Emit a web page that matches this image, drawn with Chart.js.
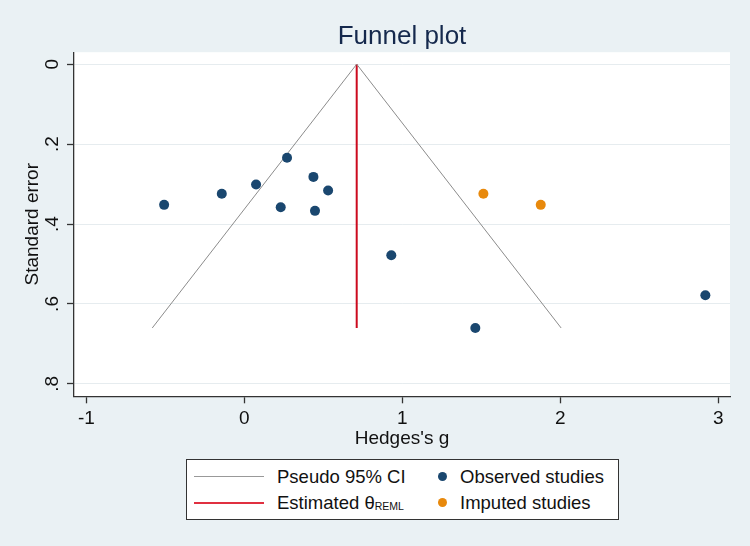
<!DOCTYPE html>
<html>
<head>
<meta charset="utf-8">
<script src="https://cdn.jsdelivr.net/npm/chart.js@4"></script>
<style>
    body { margin: 0; background: #eaf1f4; }
    .wrap { position: relative; width: 750px; height: 546px; }
    .legend {
        position: absolute; left: 186px; top: 459px; width: 431px; height: 59px;
        background: #fff; border: 1px solid #333;
        font-family: "Liberation Sans", Arial, sans-serif; font-size: 18.5px; color: #111;
    }
    .legend .item { position: absolute; line-height: 20px; white-space: nowrap; }
    .legend .line { position: absolute; left: 7px; width: 70px; }
    .legend .dot { position: absolute; width: 9px; height: 9px; border-radius: 50%; }
    .legend sub { font-size: 10.5px; vertical-align: baseline; position: relative; top: 1px; }
</style>
</head>
<body>
<div class="wrap">
    <canvas id="chart" width="750" height="546"></canvas>
    <div class="legend">
        <div class="line" style="top:16px;height:1px;background:#999"></div>
        <div class="item" style="left:90px;top:7px">Pseudo 95% CI</div>
        <div class="line" style="top:42px;height:2px;background:#e03040"></div>
        <div class="item" style="left:90px;top:33px">Estimated θ<sub>REML</sub></div>
        <div class="dot" style="left:251px;top:12px;background:#1a476f"></div>
        <div class="item" style="left:273px;top:7px">Observed studies</div>
        <div class="dot" style="left:251px;top:38px;background:#e8890c"></div>
        <div class="item" style="left:273px;top:33px">Imputed studies</div>
    </div>
</div>
<script>
// values
const observedG = [-0.508, -0.143, 0.074, 0.270, 0.230, 0.437, 0.447, 0.530, 0.930, 1.462, 2.918]
const observedSE = [0.352, 0.324, 0.301, 0.234, 0.358, 0.282, 0.367, 0.316, 0.478, 0.660, 0.578]
const imputedG = [1.513, 1.876]
const imputedSE = [0.324, 0.352]
const thetaREML = 0.711
const ciG = [-0.583, 0.711, 2.005]
const ciSE = [0.66, 0, 0.66]
const thetaSE = [0, 0.66]

const xTicks = [-1, 0, 1, 2, 3]
const yTicks = [0, 0.2, 0.4, 0.6, 0.8]
const yTickLabels = ['0', '.2', '.4', '.6', '.8']

const font = '"Liberation Sans", Arial, sans-serif'
const dark = '#333'

const toPoints = (xs, ys) => xs.map((x, i) => ({x: x, y: ys[i]}))

const background = {
    id: 'background',
    beforeDraw(chart) {
        const {ctx, chartArea} = chart
        ctx.save()
        ctx.fillStyle = '#eaf1f4'
        ctx.fillRect(0, 0, chart.width, chart.height)
        ctx.fillStyle = '#ffffff'
        ctx.fillRect(chartArea.left, chartArea.top, chartArea.right - chartArea.left, chartArea.bottom - chartArea.top)
        ctx.restore()
    }
}

new Chart(document.getElementById('chart').getContext('2d'), {
    type: 'scatter',
    data: {
        datasets: [
            {
                label: 'Observed studies',
                data: toPoints(observedG, observedSE),
                backgroundColor: '#1a476f',
                pointRadius: 5,
                pointBorderWidth: 0,
                order: 0
            },
            {
                label: 'Imputed studies',
                data: toPoints(imputedG, imputedSE),
                backgroundColor: '#e8890c',
                pointRadius: 5,
                pointBorderWidth: 0,
                order: 0
            },
            {
                label: 'Pseudo 95% CI',
                data: toPoints(ciG, ciSE),
                showLine: true,
                borderColor: '#8c8c8c',
                borderWidth: 1,
                pointRadius: 0,
                order: 1
            },
            {
                label: 'Estimated θREML',
                data: thetaSE.map(se => ({x: thetaREML, y: se})),
                showLine: true,
                borderColor: '#cc0a1e',
                borderWidth: 2,
                pointRadius: 0,
                order: 1
            }
        ]
    },
    options: {
        responsive: false,
        animation: false,
        devicePixelRatio: 1,
        layout: {padding: {top: 0, left: 0, right: 20, bottom: 94.7}},
        plugins: {
            legend: {display: false},
            tooltip: {enabled: false},
            title: {
                display: true,
                text: 'Funnel plot',
                fullSize: false,
                color: '#15294d',
                font: {family: font, size: 26, weight: 'normal', lineHeight: 1.2},
                padding: {top: 21, bottom: 0}
            }
        },
        scales: {
            x: {
                type: 'linear',
                min: -1.0785,
                max: 3.074,
                afterBuildTicks: s => { s.ticks = xTicks.map(v => ({value: v})) },
                afterFit: s => { s.height = 55 },
                grid: {drawOnChartArea: false, drawTicks: true, tickLength: 7, tickColor: dark, tickWidth: 1.3},
                border: {color: dark, width: 1.3},
                ticks: {color: '#111', font: {family: font, size: 19}, padding: 4, maxRotation: 0},
                title: {display: true, text: "Hedges's g", color: '#111', font: {family: font, size: 19}, padding: {top: 0, bottom: 1.1}}
            },
            y: {
                type: 'linear',
                reverse: true,
                min: -0.03,
                max: 0.831,
                afterBuildTicks: s => { s.ticks = yTicks.map(v => ({value: v})) },
                afterFit: s => { s.width = 74 },
                grid: {color: '#e6ecef', lineWidth: 1, drawTicks: true, tickLength: 7, tickColor: dark, tickWidth: 1.3},
                border: {color: dark, width: 1.3},
                ticks: {
                    color: '#111',
                    font: {family: font, size: 19},
                    padding: 6,
                    minRotation: 90,
                    maxRotation: 90,
                    crossAlign: 'center',
                    callback: (v, i) => yTickLabels[i]
                },
                title: {display: true, text: 'Standard error', color: '#111', font: {family: font, size: 19}, padding: {top: 21, bottom: 0}}
            }
        }
    },
    plugins: [background]
})
</script>
</body>
</html>
